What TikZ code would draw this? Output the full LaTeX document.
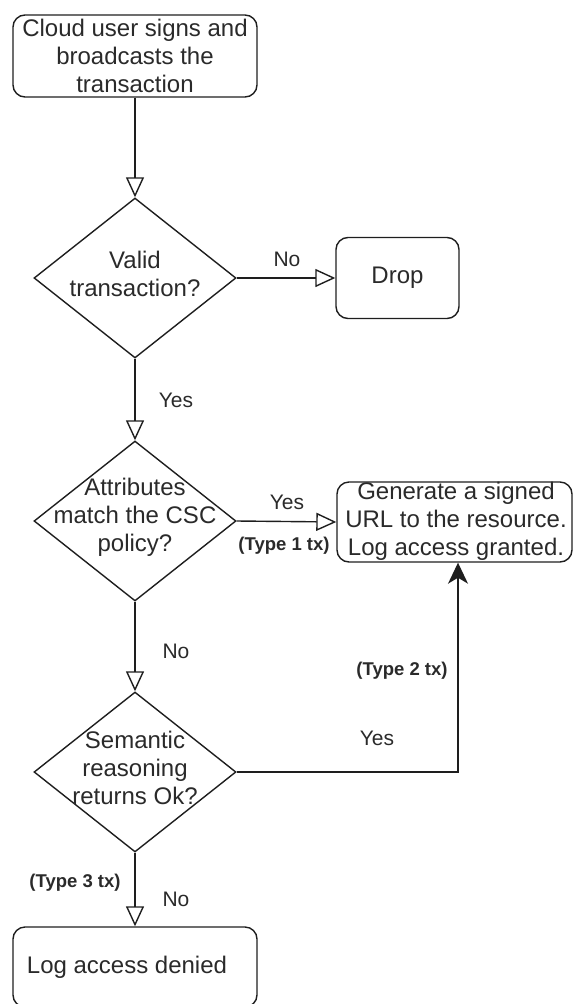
\documentclass[tikz,border=0pt]{standalone}
\usepackage{fontspec}
\setmainfont{Liberation Sans}
\usetikzlibrary{shapes.geometric,arrows.meta}
\definecolor{ink}{HTML}{1E1E1E}
\definecolor{txt}{HTML}{2A2A2A}
\begin{document}
\begin{tikzpicture}[x=1pt,y=-1pt,
  procbox/.style={draw=ink, line width=1.4pt, rounded corners=12pt, inner sep=0pt},
  decision/.style={draw=ink, line width=1.4pt, shape=diamond, inner sep=0pt,
    minimum width=202pt, minimum height=160pt},
  words/.style={font=\fontsize{24}{28}\selectfont, text=txt, align=center, inner sep=0pt},
  lbl/.style={font=\fontsize{21}{25}\selectfont, text=txt, inner sep=0pt},
  tag/.style={font=\bfseries\fontsize{18.5}{22}\selectfont, text=txt, inner sep=0pt},
  flow/.style={draw=ink, line width=1.4pt, -{Triangle[open,length=20pt,width=18pt]}},
  upflow/.style={draw=ink, line width=1.4pt, -{Stealth[length=21pt,width=20pt,inset=6pt]}}]

\useasboundingbox (0,0) rectangle (573,1004);

% process boxes
\node[procbox, minimum width=244pt, minimum height=82pt] (start) at (135,56) {};
\node[words] (startt) at (start.center) {Cloud user signs and\\broadcasts the\\transaction};

\node[procbox, minimum width=123pt, minimum height=81pt] (drop) at (397.5,278) {};
\node[words] (dropt) at (drop.center) {Drop};

\node[procbox, minimum width=235pt, minimum height=80pt] (gen) at (454.5,522) {};
\node[words] (gent) at (456,521) {Generate a signed\\URL to the resource.\\Log access granted.};

\node[procbox, minimum width=244pt, minimum height=80pt] (deny) at (135,967) {};
\node[words] (denyt) at (127,967) {Log access denied};

% decisions
\node[decision] (d1) at (135,278) {};
\node[words] (d1t) at (135,274) {Valid\\transaction?};

\node[decision] (d2) at (135,521) {};
\node[words] (d2t) at (135,517) {Attributes\\match the CSC\\policy?};

\node[decision] (d3) at (135,772) {};
\node[words] (d3t) at (135,768) {Semantic\\reasoning\\returns Ok?};

% connectors
\draw[flow] (start.south) -- (d1.north);
\draw[flow] (d1.east) -- (drop.west);
\draw[flow] (d1.south) -- (d2.north);
\draw[flow] (d2.east) -- (gen.west);
\draw[flow] (d2.south) -- (d3.north);
\draw[flow] (d3.south) -- (deny.north);
\draw[upflow] (d3.east) -| ([xshift=3.5pt]gen.south);

% connector labels
\node[lbl] (l1) at (287,259) {No};
\node[lbl] (l2) at (176,400) {Yes};
\node[lbl] (l3) at (287,502) {Yes};
\node[tag] (l4) at (284,546) {(Type 1 tx)};
\node[lbl] (l5) at (176,651) {No};
\node[tag] (l6) at (402,671) {(Type 2 tx)};
\node[lbl] (l7) at (377,738) {Yes};
\node[tag] (l8) at (75,883) {(Type 3 tx)};
\node[lbl] (l9) at (176,899) {No};
\end{tikzpicture}
\end{document}
